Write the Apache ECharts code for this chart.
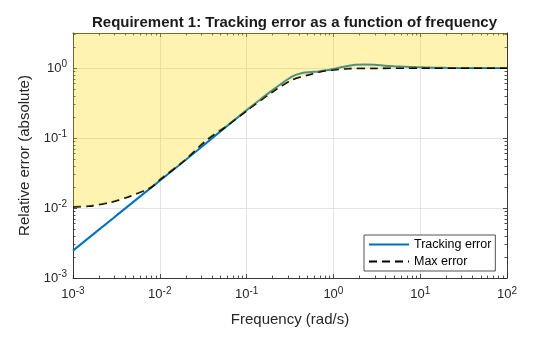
<!DOCTYPE html>
<html>
<head>
<meta charset="utf-8">
<script src="https://cdn.jsdelivr.net/npm/echarts@6/dist/echarts.min.js"></script>
<style>
  html, body { margin: 0; padding: 0; background: #fff; }
  #chart { width: 560px; height: 337px; }
</style>
</head>
<body>
<div id="chart"></div>
<script>
// Frequency grid (rad/s) and measured tracking error magnitude
const freqTrack = [0.001, 0.003, 0.01, 0.03, 0.0573, 0.1, 0.15, 0.216, 0.336, 0.438, 0.55, 0.68, 0.82, 1, 1.2, 1.4, 1.78, 2.3, 3, 3.9, 5, 6.7, 9, 11.5, 20, 50, 100];
const trackErr  = [0.00246, 0.0074, 0.0246, 0.074, 0.143, 0.25, 0.37, 0.52, 0.76, 0.85, 0.875, 0.89, 0.925, 0.97, 1.02, 1.06, 1.11, 1.125, 1.11, 1.08, 1.06, 1.045, 1.03, 1.02, 1.005, 1.0, 1.0];

// Frequency grid (rad/s) and the allowed maximum error
const freqMax = [0.001, 0.0015, 0.00266, 0.0045, 0.0079, 0.01, 0.0185, 0.035, 0.0573, 0.1, 0.216, 0.336, 0.52, 0.8, 1, 1.5, 3, 10, 100];
const maxErr  = [0.0104, 0.0106, 0.012, 0.0147, 0.0197, 0.0254, 0.046, 0.0946, 0.145, 0.245, 0.49, 0.68, 0.80, 0.915, 0.94, 0.98, 0.99, 1.0, 1.0];

// Axis decades
const xTicks = [0.001, 0.01, 0.1, 1, 10, 100];
const yTicks = [0.001, 0.01, 0.1, 1];
const xMin = 0.001, xMax = 100;
const yMin = 0.001, yMax = 3.1623;

function minorTicks(lo, hi) {
  const out = [];
  for (let e = Math.floor(Math.log10(lo)); e <= Math.ceil(Math.log10(hi)); e++) {
    for (let k = 2; k <= 9; k++) {
      const v = k * Math.pow(10, e);
      if (v > lo && v < hi) out.push(v);
    }
  }
  return out;
}
const xMinor = minorTicks(xMin, xMax);
const yMinor = minorTicks(yMin, yMax);

const FONT = '"Liberation Sans", Arial, Helvetica, sans-serif';
const AX = '#262626';

const rich = {
  b: { fontSize: 13, color: AX, fontFamily: FONT, lineHeight: 17 },
  e: { fontSize: 10, color: AX, fontFamily: FONT, verticalAlign: 'top', lineHeight: 10 }
};
const expLabel = v => '{b|10}{e|' + Math.round(Math.log10(v)) + '}';

function baseAxis(extra) {
  return Object.assign({
    type: 'log', logBase: 10,
    axisLine: { show: true, lineStyle: { color: AX, width: 0.9 } },
    splitLine: { show: false },
    axisLabel: { show: false },
    axisTick: { show: true, inside: true, length: 4, lineStyle: { color: AX, width: 0.8 } }
  }, extra);
}

const xAxes = [
  baseAxis({
    min: xMin, max: xMax, position: 'bottom',
    name: 'Frequency (rad/s)', nameLocation: 'middle', nameGap: 34,
    nameTextStyle: { fontSize: 15, color: AX, fontFamily: FONT },
    axisTick: { show: true, inside: true, length: 4, customValues: xTicks, lineStyle: { color: AX, width: 0.8 } },
    axisLabel: { show: true, margin: 8, customValues: xTicks, formatter: expLabel, rich: rich },
    splitLine: { show: true, lineStyle: { color: '#dcdcdc', width: 0.8 } }
  }),
  baseAxis({ min: xMin, max: xMax, position: 'bottom', axisLine: { show: false },
    axisTick: { show: true, inside: true, length: 2.5, customValues: xMinor, lineStyle: { color: AX, width: 0.8 } } }),
  baseAxis({ min: xMin, max: xMax, position: 'top',
    axisTick: { show: true, inside: true, length: 4, customValues: xTicks, lineStyle: { color: AX, width: 0.8 } } }),
  baseAxis({ min: xMin, max: xMax, position: 'top', axisLine: { show: false },
    axisTick: { show: true, inside: true, length: 2.5, customValues: xMinor, lineStyle: { color: AX, width: 0.8 } } })
];

const yAxes = [
  baseAxis({
    min: yMin, max: yMax, position: 'left',
    name: 'Relative error (absolute)', nameLocation: 'middle', nameGap: 38,
    nameTextStyle: { fontSize: 15, color: AX, fontFamily: FONT },
    axisTick: { show: true, inside: true, length: 4, customValues: yTicks, lineStyle: { color: AX, width: 0.8 } },
    axisLabel: { show: true, margin: 6, customValues: yTicks, formatter: expLabel, rich: rich },
    splitLine: { show: true, lineStyle: { color: '#dcdcdc', width: 0.8 } }
  }),
  baseAxis({ min: yMin, max: yMax, position: 'left', axisLine: { show: false },
    axisTick: { show: true, inside: true, length: 2.5, customValues: yMinor, lineStyle: { color: AX, width: 0.8 } } }),
  baseAxis({ min: yMin, max: yMax, position: 'right',
    axisTick: { show: true, inside: true, length: 4, customValues: yTicks, lineStyle: { color: AX, width: 0.8 } } }),
  baseAxis({ min: yMin, max: yMax, position: 'right', axisLine: { show: false },
    axisTick: { show: true, inside: true, length: 2.5, customValues: yMinor, lineStyle: { color: AX, width: 0.8 } } })
];

const trackData = freqTrack.map((f, i) => [f, trackErr[i]]);
const maxData = freqMax.map((f, i) => [f, maxErr[i]]);

const chart = echarts.init(document.getElementById('chart'), null, { renderer: 'canvas' });
chart.setOption({
  animation: false,
  backgroundColor: '#fff',
  title: {
    text: 'Requirement 1: Tracking error as a function of frequency',
    left: 289.5, top: 10, textAlign: 'center',
    textStyle: { fontSize: 15, fontWeight: 'bold', color: '#1a1a1a', fontFamily: FONT }
  },
  grid: { left: 73, right: 53, top: 33, bottom: 59, containLabel: false },
  xAxis: xAxes,
  yAxis: yAxes,
  legend: {
    data: ['Tracking error', 'Max error'],
    orient: 'vertical', left: 364, top: 235,
    itemWidth: 40, itemHeight: 12, itemGap: 4,
    padding: [3, 4, 3, 4],
    backgroundColor: '#fff', borderColor: AX, borderWidth: 0.8,
    itemStyle: { color: 'rgba(0,0,0,0)', borderWidth: 0, opacity: 0 },
    textStyle: { fontSize: 12.5, color: '#000', fontFamily: FONT },
    z: 10
  },
  series: [
    {
      name: 'Tracking error', type: 'line', data: trackData,
      smooth: 0.3, symbol: 'none', showSymbol: false,
      lineStyle: { color: '#0072BD', width: 2 }, itemStyle: { color: '#0072BD' }, z: 2
    },
    {
      name: 'Max error', type: 'line', data: maxData,
      smooth: 0.3, symbol: 'none', showSymbol: false,
      lineStyle: { color: '#000', width: 1.8, type: [8, 5] }, itemStyle: { color: '#000' }, z: 2
    },
    {
      // shaded region above the max-error bound
      name: 'region', type: 'line', data: maxData,
      smooth: 0.3, symbol: 'none', showSymbol: false, silent: true,
      lineStyle: { width: 0 },
      areaStyle: { origin: 'end', color: 'rgba(255, 214, 0, 0.3)', opacity: 1 },
      z: 3
    }
  ]
});
</script>
</body>
</html>
